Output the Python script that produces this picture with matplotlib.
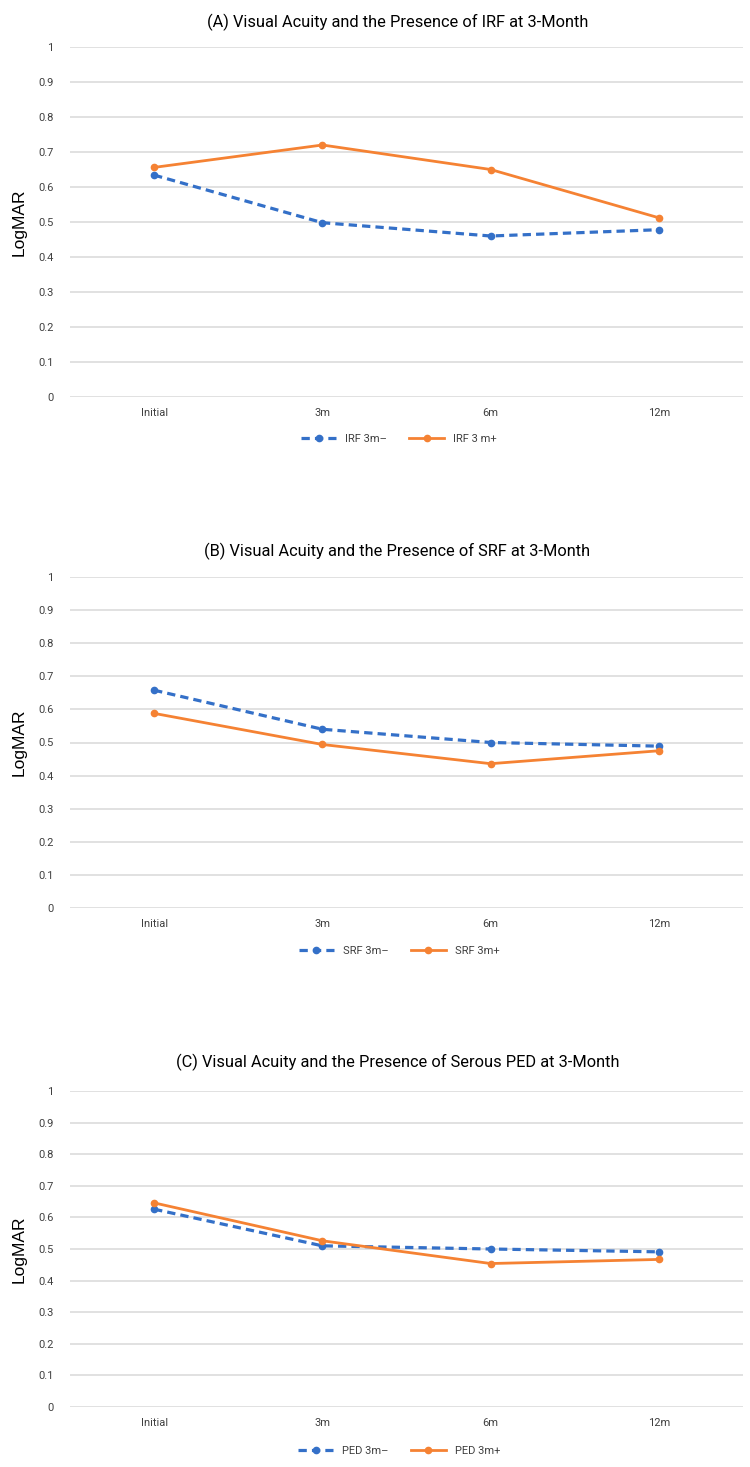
import matplotlib
matplotlib.use("Agg")
import matplotlib.pyplot as plt

# ---------------- data ----------------
timepoints = ["Initial", "3m", "6m", "12m"]

titles = [
    "(A) Visual Acuity and the Presence of IRF at 3-Month",
    "(B) Visual Acuity and the Presence of SRF at 3-Month",
    "(C) Visual Acuity and the Presence of Serous PED at 3-Month",
]

irf_neg = [0.634, 0.498, 0.460, 0.478]
irf_pos = [0.656, 0.720, 0.650, 0.512]

srf_neg = [0.658, 0.540, 0.500, 0.489]
srf_pos = [0.588, 0.494, 0.436, 0.475]

ped_neg = [0.626, 0.510, 0.500, 0.491]
ped_pos = [0.646, 0.526, 0.454, 0.467]

neg_labels = ["IRF 3m\u2013", "SRF 3m\u2013", "PED 3m\u2013"]
pos_labels = ["IRF 3 m+", "SRF 3m+", "PED 3m+"]

yticks = [0, 0.1, 0.2, 0.3, 0.4, 0.5, 0.6, 0.7, 0.8, 0.9, 1]
ytick_labels = ["0", "0.1", "0.2", "0.3", "0.4", "0.5", "0.6", "0.7", "0.8", "0.9", "1"]

# ---------------- style ----------------
plt.rcParams["font.family"] = ["Roboto", "DejaVu Sans"]

BLUE = "#3470C8"
ORANGE = "#F58233"
GRID = "#D9D9D9"
TXT = "#404040"

W, H = 750, 1467
fig = plt.figure(figsize=(W / 100, H / 100), dpi=100)

# panels in pixel coordinates: (top, bottom) of plotting area
panels = [(47, 397), (577, 908), (1091, 1407)]
title_y = [22, 551, 1062]
legend_y = [439, 951, 1451]
left_px, right_px = 70, 743

series = [(irf_neg, irf_pos), (srf_neg, srf_pos), (ped_neg, ped_pos)]

for i, ((top, bot), (neg, pos)) in enumerate(zip(panels, series)):
    ax = fig.add_axes([left_px / W, 1 - bot / H, (right_px - left_px) / W, (bot - top) / H])
    x = list(range(len(timepoints)))
    l1, = ax.plot(x, neg, color=BLUE, lw=2.3, ls=(0, (2.6, 1.6)), marker="o", ms=4.5,
                  label=neg_labels[i], zorder=3, clip_on=False)
    l2, = ax.plot(x, pos, color=ORANGE, lw=2.0, ls="-", marker="o", ms=4.5,
                  label=pos_labels[i], zorder=3, clip_on=False)
    ax.set_xlim(-0.5, len(timepoints) - 0.5)
    ax.set_ylim(0, 1)
    ax.set_yticks(yticks)
    ax.set_yticklabels(ytick_labels)
    ax.set_xticks(x)
    ax.set_xticklabels(timepoints)
    ax.yaxis.grid(True, color=GRID, lw=1.1)
    ax.set_axisbelow(True)
    for s in ax.spines.values():
        s.set_visible(False)
    ax.tick_params(axis="both", length=0, labelsize=8, colors=TXT)
    ax.tick_params(axis="y", pad=12)
    ax.tick_params(axis="x", pad=8)
    ax.set_ylabel("LogMAR", fontsize=12.5, family=["Liberation Sans", "DejaVu Sans"],
                  color="#000000", labelpad=8)
    fig.text(0.53, 1 - title_y[i] / H, titles[i], ha="center", va="center",
             fontsize=11.8, color="#000000")
    # handle length = 3 dashes + 2 gaps so the marker sits centred: (3*2.6+2*1.6)*2.3pt / 8pt
    leg = ax.legend(handles=[l1, l2], loc="center", ncol=2, frameon=False,
                    bbox_to_anchor=(0.532, 1 - legend_y[i] / H), bbox_transform=fig.transFigure,
                    fontsize=8, handlelength=3.16, columnspacing=2.0, handletextpad=0.8)
    for t in leg.get_texts():
        t.set_color(TXT)

fig.savefig("out.png", dpi=100, facecolor="white")
